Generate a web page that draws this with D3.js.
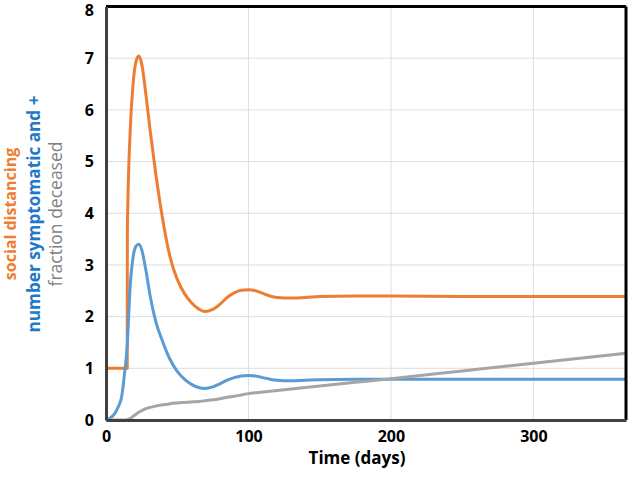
<!DOCTYPE html>
<html>
<head>
<meta charset="utf-8">
<script src="https://cdn.jsdelivr.net/npm/d3@7"></script>
<style>
  body { margin: 0; background: #fff; }
  text { font-family: "Open Sans", sans-serif; }
</style>
</head>
<body>
<svg id="chart" width="630" height="481"></svg>
<script>
var days = [0, 3, 6, 9, 11, 13, 14.9, 15, 17, 19, 21, 23, 25, 28, 31, 35, 40, 43, 45, 50, 55, 60, 65, 69, 75, 80, 85, 90, 95, 100, 105, 110, 115, 120, 130, 140, 150, 175, 200, 250, 300, 365];

var distancing = [1, 1, 1, 1, 1, 1, 1, 3.65, 5.6, 6.5, 6.93, 7.04, 6.9, 6.3, 5.6, 4.75, 3.85, 3.4, 3.15, 2.72, 2.45, 2.27, 2.15, 2.1, 2.14, 2.24, 2.37, 2.46, 2.51, 2.52, 2.5, 2.45, 2.4, 2.37, 2.36, 2.37, 2.39, 2.4, 2.4, 2.39, 2.39, 2.39];

var symptomatic = [0, 0.04, 0.12, 0.28, 0.45, 0.9, 1.45, 1.5, 2.6, 3.15, 3.36, 3.4, 3.3, 2.9, 2.4, 1.9, 1.5, 1.29, 1.17, 0.94, 0.79, 0.69, 0.63, 0.61, 0.64, 0.7, 0.77, 0.82, 0.85, 0.86, 0.85, 0.82, 0.79, 0.77, 0.76, 0.77, 0.78, 0.79, 0.79, 0.79, 0.79, 0.79];

var deceased = [0, 0, 0, 0, 0, 0, 0.005, 0.008, 0.03, 0.07, 0.11, 0.15, 0.18, 0.22, 0.245, 0.27, 0.295, 0.305, 0.315, 0.33, 0.34, 0.35, 0.36, 0.37, 0.39, 0.41, 0.44, 0.46, 0.485, 0.51, 0.525, 0.54, 0.555, 0.57, 0.6, 0.63, 0.66, 0.73, 0.8, 0.95, 1.1, 1.29];

var xTicks = [0, 100, 200, 300];
var yTicks = [0, 1, 2, 3, 4, 5, 6, 7, 8];

var margin = { left: 106, right: 4, top: 6.5, bottom: 61 },
  width = 630 - margin.left - margin.right,
  height = 481 - margin.top - margin.bottom;

var svg = d3.select("#chart");
var g = svg.append("g").attr("transform", "translate(" + margin.left + "," + margin.top + ")");

var x = d3.scaleLinear().domain([0, 365]).range([0, width]);
var y = d3.scaleLinear().domain([0, 8]).range([height, 0]);

// grid
g.selectAll(".hgrid").data(yTicks.slice(1, -1)).enter().append("line")
  .attr("x1", 0).attr("x2", width)
  .attr("y1", function(d) { return y(d); }).attr("y2", function(d) { return y(d); })
  .attr("stroke", "#dedede").attr("stroke-width", 1);
g.selectAll(".vgrid").data(xTicks.slice(1)).enter().append("line")
  .attr("y1", 0).attr("y2", height)
  .attr("x1", function(d) { return x(d); }).attr("x2", function(d) { return x(d); })
  .attr("stroke", "#dedede").attr("stroke-width", 1);

// series
var series = [
  { values: distancing, color: "#ED7D31" },
  { values: symptomatic, color: "#5B9BD5" },
  { values: deceased, color: "#A5A5A5" }
];

var line = d3.line()
  .x(function(d) { return x(d[0]); })
  .y(function(d) { return y(d[1]); })
  .curve(d3.curveMonotoneX);

series.forEach(function(s) {
  g.append("path")
    .datum(days.map(function(t, i) { return [t, s.values[i]]; }))
    .attr("fill", "none")
    .attr("stroke", s.color)
    .attr("stroke-width", 3)
    .attr("stroke-linejoin", "round")
    .attr("d", line);
});

// frame
g.append("line").attr("x1", 0).attr("x2", width).attr("y1", 0).attr("y2", 0)
  .attr("stroke", "#000").attr("stroke-width", 3);
g.append("line").attr("x1", width).attr("x2", width).attr("y1", 0).attr("y2", height)
  .attr("stroke", "#000").attr("stroke-width", 3);

// axes
var yAxis = g.append("g").call(d3.axisLeft(y).tickValues(yTicks).tickSize(0).tickPadding(12));
var xAxis = g.append("g").attr("transform", "translate(0," + height + ")")
  .call(d3.axisBottom(x).tickValues(xTicks).tickSize(0).tickPadding(11));

[yAxis, xAxis].forEach(function(a) {
  a.select(".domain").attr("stroke", "#404040").attr("stroke-width", 3);
  a.selectAll("text")
    .attr("fill", "#000")
    .style("font-family", "'Open Sans', sans-serif")
    .style("font-size", "16px")
    .style("font-weight", "bold");
});
yAxis.selectAll("text").filter(function(d) { return d === 8; }).attr("dy", "0.55em");

// x title
svg.append("text")
  .attr("x", 357).attr("y", 464)
  .attr("text-anchor", "middle")
  .style("font-size", "17px").style("font-weight", "bold")
  .text("Time (days)");

// y titles
var titles = [
  { label: "social distancing", color: "#ED7D31", x: 16, size: 16, weight: "bold" },
  { label: "number symptomatic and +", color: "#1f78c8", x: 40, size: 17.2, weight: "bold" },
  { label: "fraction deceased", color: "#7f7f7f", x: 62, size: 17.5, weight: "normal" }
];
titles.forEach(function(t) {
  svg.append("text")
    .attr("transform", "translate(" + t.x + ",214) rotate(-90)")
    .attr("text-anchor", "middle")
    .attr("fill", t.color)
    .style("font-size", t.size + "px")
    .style("font-weight", t.weight)
    .text(t.label);
});
</script>
</body>
</html>
